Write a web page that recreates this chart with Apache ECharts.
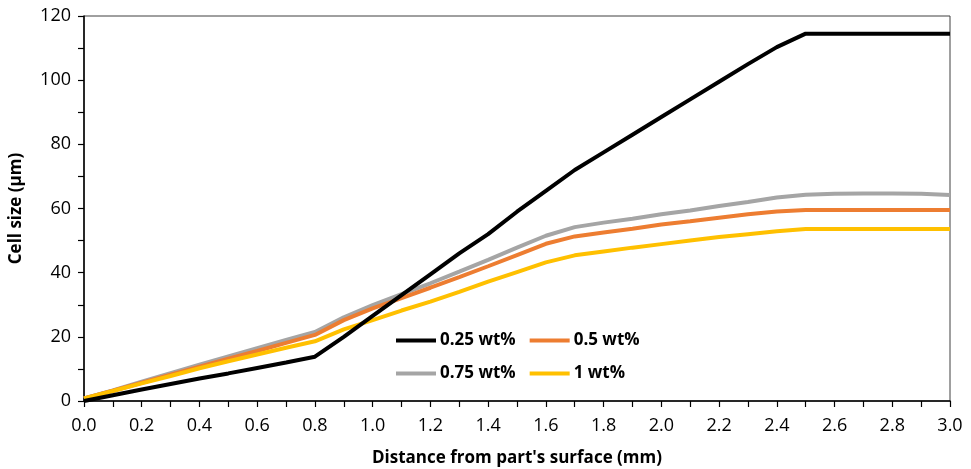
<!DOCTYPE html>
<html>
<head>
<meta charset="utf-8">
<script src="https://cdn.jsdelivr.net/npm/echarts@6/dist/echarts.min.js"></script>
<style>
html,body{margin:0;padding:0;background:#fff;}
#chart{width:971px;height:469px;}
</style>
</head>
<body>
<div id="chart"></div>
<script>
const distance = [0.0,0.1,0.2,0.3,0.4,0.5,0.6,0.7,0.8,0.9,1.0,1.1,1.2,1.3,1.4,1.5,1.6,1.7,1.8,1.9,2.0,2.1,2.2,2.3,2.4,2.5,2.6,2.7,2.8,2.9,3.0];
const seriesNames = ['0.25 wt%','0.5 wt%','0.75 wt%','1 wt%'];
const wt025 = [0.0,1.8,3.6,5.3,7.0,8.6,10.3,12.0,13.8,20.0,26.5,33.0,39.5,46.0,52.0,59.0,65.5,72.0,77.5,83.0,88.5,94.0,99.5,105.0,110.3,114.5,114.5,114.5,114.5,114.5,114.5];
const wt05  = [0.8,3.2,5.7,8.2,10.7,13.2,15.6,18.1,20.6,25.2,28.9,32.1,35.3,38.6,42.0,45.5,49.0,51.3,52.5,53.7,55.0,56.0,57.1,58.2,59.1,59.5,59.5,59.5,59.5,59.5,59.5];
const wt075 = [0.8,3.3,6.0,8.7,11.3,13.9,16.5,19.0,21.5,26.1,29.9,33.3,36.7,40.3,44.0,47.8,51.5,54.2,55.6,56.8,58.2,59.4,60.8,62.0,63.4,64.3,64.6,64.7,64.7,64.6,64.2];
const wt1   = [0.8,3.1,5.5,7.8,10.2,12.4,14.5,16.6,18.6,22.3,25.2,28.2,31.0,34.0,37.2,40.2,43.2,45.4,46.6,47.8,48.9,50.0,51.1,52.0,52.9,53.6,53.6,53.6,53.6,53.6,53.6];
const colors = ['#000000','#ED7D31','#A5A5A5','#FFC000'];

const allValues = [wt025, wt05, wt075, wt1];
const font = 'Open Sans';

const chart = echarts.init(document.getElementById('chart'), null, {renderer:'canvas'});
const zs = [5, 4, 3, 4];
const series = seriesNames.map((name, i) => ({
  name: name,
  type: 'line',
  data: distance.map((d, j) => [d, allValues[i][j]]),
  symbol: 'none',
  showSymbol: false,
  lineStyle: {color: colors[i], width: 4},
  itemStyle: {color: colors[i]},
  z: zs[i],
  animation: false
}));

const legendText = {fontFamily: font, fontSize: 17, fontWeight: 'bold', color: '#000', padding: [0, 0, 0, -1]};
const legendCommon = {icon: 'rect', itemWidth: 40, itemHeight: 4, itemGap: 14, padding: 0, textStyle: legendText};
chart.setOption({
  animation: false,
  grid: {left: 84, right: 21, top: 16, bottom: 68, show: true, borderColor: '#404040', borderWidth: 1, containLabel: false, outerBoundsMode: 'none'},
  legend: [
    Object.assign({data: [seriesNames[0], seriesNames[1]], left: 396, top: 332}, legendCommon),
    Object.assign({data: [seriesNames[2], seriesNames[3]], left: 396, top: 365}, legendCommon)
  ],
  xAxis: {
    type: 'value', min: 0, max: 3, interval: 0.2,
    name: "Distance from part's surface (mm)", nameLocation: 'middle', nameGap: 49,
    nameTextStyle: {fontFamily: font, fontSize: 17, fontWeight: 'bold', color: '#000'},
    axisLine: {show: true, onZero: false, lineStyle: {color: '#000', width: 1.5}},
    axisTick: {show: true, inside: false, length: 6, lineStyle: {color: '#000', width: 1.2}},
    minorTick: {show: true, splitNumber: 2, length: 6, lineStyle: {color: '#000', width: 1.2}},
    axisLabel: {fontFamily: font, fontSize: 18, color: '#000', margin: 16, formatter: v => v.toFixed(1)},
    splitLine: {show: false}
  },
  yAxis: {
    type: 'value', min: 0, max: 120, interval: 20,
    name: 'Cell size (µm)', nameLocation: 'middle', nameGap: 59, nameRotate: 90,
    nameTextStyle: {fontFamily: font, fontSize: 17, fontWeight: 'bold', color: '#000'},
    axisLine: {show: true, onZero: false, lineStyle: {color: '#000', width: 1.5}},
    axisTick: {show: true, inside: false, length: 6, lineStyle: {color: '#000', width: 1.2}},
    minorTick: {show: true, splitNumber: 2, length: 6, lineStyle: {color: '#000', width: 1.2}},
    axisLabel: {fontFamily: font, fontSize: 18, color: '#000', margin: 13},
    splitLine: {show: false}
  },
  series: series
});
</script>
</body>
</html>
